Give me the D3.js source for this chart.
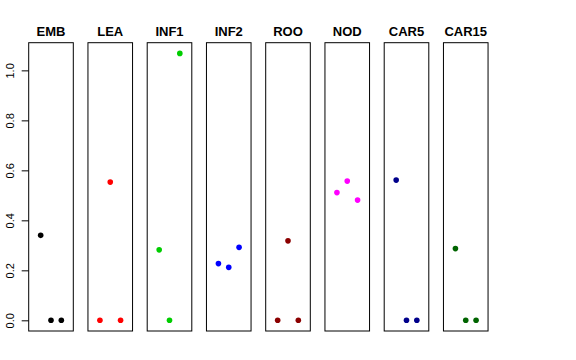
<!DOCTYPE html>
<html>
<head>
<meta charset="utf-8">
<script src="https://cdn.jsdelivr.net/npm/d3@7"></script>
<style>
  body { margin: 0; background: #fff; }
  text { font-family: "Liberation Sans", Arial, Helvetica, sans-serif; }
</style>
</head>
<body>
<svg id="chart" width="576" height="360"></svg>
<script>
// one panel per tissue, three samples each
var tissues = ['EMB', 'LEA', 'INF1', 'INF2', 'ROO', 'NOD', 'CAR5', 'CAR15'];
var colors = ['#000000', '#FF0000', '#00CD00', '#0000FF', '#8B0000', '#FF00FF', '#00008B', '#006400'];
var values = [
  [0.34, 0, 0],
  [0, 0.553, 0],
  [0.282, 0, 1.068],
  [0.227, 0.212, 0.292],
  [0, 0.318, 0],
  [0.511, 0.557, 0.481],
  [0.561, 0, 0],
  [0.287, 0, 0]
];
var yTicks = [0, 0.2, 0.4, 0.6, 0.8, 1.0];

var svg = d3.select("#chart");

var panelLeft = 28.7, panelStep = 59.25, panelWidth = 44.6;
var panelTop = 42.7, panelBottom = 331;

// R style 4% padding on both axes
var ymax = d3.max(values, function(d) { return d3.max(d); });
var pad = 0.04 * ymax;
var y = d3.scaleLinear().domain([-pad, ymax + pad]).range([panelBottom, panelTop]);
var x = d3.scaleLinear().domain([-0.16, 4.16]).range([0, panelWidth]);

var panel = svg.selectAll(".panel")
    .data(tissues)
  .enter().append("g")
    .attr("class", "panel")
    .attr("transform", function(d, i) { return "translate(" + (panelLeft + i * panelStep) + ",0)"; });

panel.append("rect")
    .attr("x", 0)
    .attr("y", panelTop)
    .attr("width", panelWidth)
    .attr("height", panelBottom - panelTop)
    .attr("fill", "none")
    .attr("stroke", "#000")
    .attr("stroke-width", 1);

panel.append("text")
    .attr("x", panelWidth / 2)
    .attr("y", 35.5)
    .attr("text-anchor", "middle")
    .style("font-size", "13px")
    .style("font-weight", "bold")
    .text(function(d) { return d; });

panel.selectAll("circle")
    .data(function(d, i) { return values[i].map(function(v) { return {v: v, c: colors[i]}; }); })
  .enter().append("circle")
    .attr("cx", function(d, j) { return x(j + 1); })
    .attr("cy", function(d) { return y(d.v); })
    .attr("r", 2.8)
    .attr("fill", function(d) { return d.c; });

// y axis on the first panel only
var axis = svg.append("g")
    .attr("transform", "translate(" + panelLeft + ",0)")
    .call(d3.axisLeft(y).tickValues(yTicks).tickFormat(d3.format(".1f")).tickSize(7).tickSizeOuter(0));
axis.select(".domain").remove();
axis.selectAll(".tick line").attr("stroke", "#000");
axis.selectAll(".tick text")
    .attr("x", null).attr("dy", null)
    .attr("text-anchor", "middle")
    .attr("transform", "translate(-14.5,0) rotate(-90)")
    .attr("fill", "#000")
    .style("font-size", "11px")
    .style("font-family", "'Liberation Sans', Arial, sans-serif");
</script>
</body>
</html>
